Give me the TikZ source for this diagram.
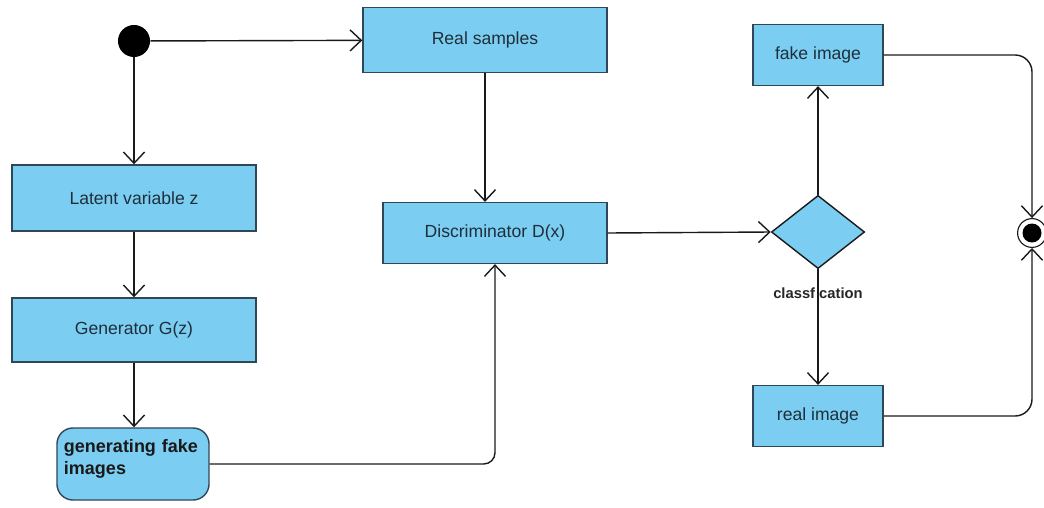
\documentclass[tikz,border=0pt]{standalone}
\usepackage{fontspec}
\setmainfont{Liberation Sans}
\definecolor{Boxcol}{HTML}{7BCDF2}
\definecolor{Edgecol}{HTML}{2F4858}
\definecolor{Textcol}{HTML}{1E2F3A}
\definecolor{Linecol}{HTML}{1A1A1A}
\usetikzlibrary{arrows.meta, shapes.geometric}
\tikzset{
    >={Straight Barb[length=8pt, width=15pt]},
    box/.style={draw=Edgecol, fill=Boxcol, line width=1pt, text=Textcol,
        font=\fontsize{12.5}{15}\selectfont},
    flow/.style={->, Linecol, line width=1pt}
}
\begin{document}
\begin{tikzpicture}[x=0.025cm, y=-0.025cm]
    % Frame
    \useasboundingbox (0,0) rectangle (1044,507);

    % Start and end
    \node[circle, fill=black, minimum size=0.8cm, inner sep=0pt] (start) at (134,41) {};
    \node[circle, draw=Linecol, line width=0.8pt, minimum size=0.72cm, inner sep=0pt] (end) at (1032,233) {};
    \fill[black] (end.center) circle (9.5);

    % Left column
    \node[box, minimum width=6.1cm, minimum height=1.65cm] (latent) at (134,198) {Latent variable z};
    \node[box, minimum width=6.1cm, minimum height=1.6cm] (gen) at (134,330) {Generator G(z)};
    \node[box, rounded corners=0.4cm, minimum width=3.8cm, minimum height=1.8cm,
          text width=3.45cm, inner xsep=0.15cm, align=left,
          font=\fontsize{12.8}{15.5}\selectfont\bfseries,
          text=black!90] (fake) at (133,464) {generating fake\\images\\[-6pt]\mbox{}};

    % Middle column
    \node[box, minimum width=6.1cm, minimum height=1.62cm] (real) at (485,40) {Real samples};
    \node[box, minimum width=5.6cm, minimum height=1.52cm] (disc) at (495,233) {Discriminator D(x)};

    % Decision
    \node[diamond, aspect=1.27, draw=Linecol, fill=Boxcol, line width=1pt,
          minimum width=2.33cm, minimum height=1.83cm, inner sep=0pt] (dec) at (818,232) {};
    \node[font=\fontsize{10.5}{12}\selectfont\bfseries, text=black!85] (cls) at (818,293) {classf\phantom{i}cation};
    \node[box, minimum width=3.25cm, minimum height=1.52cm] (fimg) at (818,55) {fake image};
    \node[box, minimum width=3.25cm, minimum height=1.52cm] (rimg) at (818,416) {real image};

    % Flows
    \draw[flow] (start) -- (real);
    \draw[flow] (start) -- (latent);
    \draw[flow] (latent) -- (gen);
    \draw[flow] (gen) -- (fake.north -| gen);
    \draw[flow] (real) -- (disc.north -| real);
    \draw[flow, rounded corners=8] (fake.east) -| (disc.south);
    \draw[flow] (disc.east) -- (dec.west);
    \draw[flow] (dec.north) -- (fimg.south);
    \draw[flow] (dec.south) -- (rimg.north);
    \draw[flow, rounded corners=12] (fimg.east) -| (end.north);
    \draw[flow, rounded corners=12] (rimg.east) -| (end.south);
\end{tikzpicture}
\end{document}
